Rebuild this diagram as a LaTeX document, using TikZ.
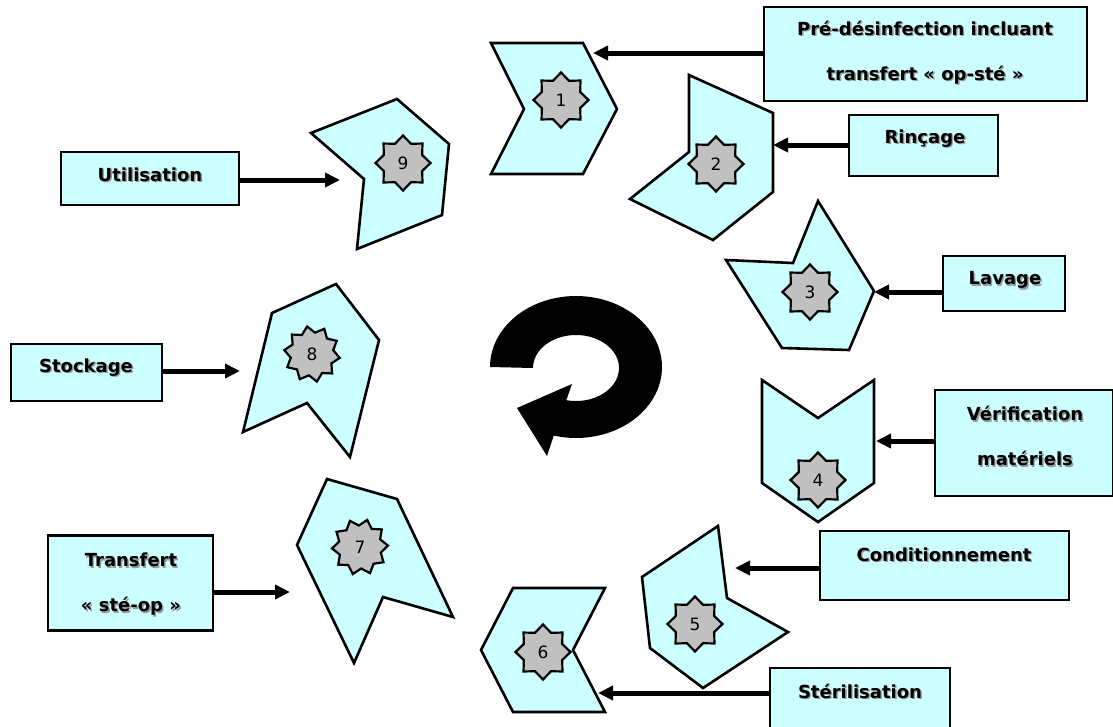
\documentclass[tikz,border=0pt]{standalone}
\usepackage{fontspec}
\setmainfont{DejaVu Sans}
\setsansfont{DejaVu Sans}
\usetikzlibrary{arrows.meta,shapes.geometric}
\definecolor{pale}{HTML}{CCFFFF}
\definecolor{stargray}{HTML}{C0C0C0}
\newcommand{\shd}[1]{\makebox[0pt][l]{\kern1.4pt\raisebox{-1.4pt}{\textcolor{black!40}{#1}}}#1}
\begin{document}
\begin{tikzpicture}[x=1pt,y=-1pt,
  piece/.style={draw=black,line width=2.6pt,fill=pale,line join=miter},
  starn/.style={star,star points=8,star point ratio=1.32,draw=black,line width=2.2pt,fill=stargray,
     minimum size=55pt,inner sep=0pt,font=\fontsize{17}{17}\selectfont\sffamily},
  starm/.style={starn,star points=10,star point ratio=1.3,minimum size=56pt},
  box/.style={draw=black,line width=2.4pt,fill=pale,inner sep=0pt},
  lbl/.style={font=\fontsize{18}{45}\selectfont\bfseries,align=center,inner sep=0pt},
  arr/.style={line width=5pt,-{Triangle[length=15pt,width=14pt]}}]
\useasboundingbox (0,0) rectangle (1113,726);
% --- pieces ---
\draw[piece] (491,43) -- (583,43) -- (617,109) -- (583,174) -- (491,174) -- (524,109) -- cycle;
\node[starn] (s1) at (561,100) {1};
\draw[piece] (689,75) -- (773,113) -- (773,192) -- (713,240) -- (630,199) -- (689,152) -- cycle;
\node[starn] (s2) at (716,164) {2};
\draw[piece] (818,201) -- (874,291) -- (849,350) -- (782,348) -- (726,260) -- (793,263) -- cycle;
\node[starn] (s3) at (810,292) {3};
\draw[piece] (762,380) -- (818,418) -- (874,380) -- (874,483) -- (818,522) -- (762,483) -- cycle;
\node[starn] (s4) at (818,480) {4};
\draw[piece] (642,577) -- (718,526) -- (727,598) -- (788,632) -- (703,688) -- (650,648) -- cycle;
\node[starn] (s5) at (695,624) {5};
\draw[piece] (513,588) -- (605,588) -- (573,650) -- (605,712) -- (513,712) -- (481,650) -- cycle;
\node[starn] (s6) at (543,652) {6};
\draw[piece] (327,479) -- (397,499) -- (453,617) -- (383,597) -- (354,663) -- (297,545) -- cycle;
\node[starm,shape border rotate=-15] (s7) at (360,547) {7};
\draw[piece] (272,313) -- (336,284) -- (379,340) -- (350,457) -- (307,403) -- (243,432) -- cycle;
\node[starm,shape border rotate=10] (s8) at (312,354) {8};
\draw[piece] (311,133) -- (397,99) -- (449,144) -- (442,215) -- (357,249) -- (364,179) -- cycle;
\node[starn] (s9) at (403,163) {9};
% --- contact points ---
\coordinate (p1) at (593,53);
\coordinate (p2) at (773,145);
\coordinate (p3) at (874,292);
\coordinate (p4) at (876,441);
\coordinate (p5) at (735,568);
\coordinate (p6) at (598,693);
\coordinate (p7) at (290,592);
\coordinate (p8) at (240,371);
\coordinate (p9) at (340,180);
% --- boxes ---
\node[box,minimum width=323pt,minimum height=94pt] (b1) at (925.5,54) {};
\node[box,minimum width=149pt,minimum height=61pt] (b2) at (923.5,145.5) {};
\node[box,minimum width=122pt,minimum height=55pt] (b3) at (1004,283.5) {};
\node[box,minimum width=178pt,minimum height=106pt] (b4) at (1024,443) {};
\node[box,minimum width=249pt,minimum height=69pt] (b5) at (944.5,565.5) {};
\node[box,minimum width=180pt,minimum height=60pt] (b6) at (860,698) {};
\node[box,minimum width=165pt,minimum height=95pt] (b7) at (130.5,583) {};
\node[box,minimum width=151pt,minimum height=57pt] (b8) at (86.5,372.5) {};
\node[box,minimum width=178pt,minimum height=53pt] (b9) at (150,178.5) {};
% --- labels ---
\node[lbl] (t1) at (925,53) {\shd{Pré-désinfection incluant}\\\shd{transfert « op-sté »}};
\node[lbl] (t2) at (925,139) {\shd{Rinçage}};
\node[lbl] (t3) at (1005,281) {\shd{Lavage}};
\node[lbl] (t4) at (1025,437) {\shd{Vérification}\\\shd{matériels}};
\node[lbl] (t5) at (944,555) {\shd{Conditionnement}};
\node[lbl] (t6) at (860,692) {\shd{Stérilisation}};
\node[lbl] (t7) at (131,585) {\shd{Transfert}\\\shd{« sté-op »}};
\node[lbl] (t8) at (86,368) {\shd{Stockage}};
\node[lbl] (t9) at (150,175) {\shd{Utilisation}};
% --- arrows ---
\draw[arr] (b1.west |- p1) -- (p1);
\draw[arr] (b2.west |- p2) -- (p2);
\draw[arr] (b3.west |- p3) -- (p3);
\draw[arr] (b4.west |- p4) -- (p4);
\draw[arr] (b5.west |- p5) -- (p5);
\draw[arr] (b6.west |- p6) -- (p6);
\draw[arr] (b7.east |- p7) -- (p7);
\draw[arr] (b8.east |- p8) -- (p8);
\draw[arr] (b9.east |- p9) -- (p9);
% --- cycle arrow ---
\fill[black] plot[domain=180:465,samples=90,variable=\t] ({576+86*cos(\t)},{367+71*sin(\t)})
  -- (547,456) -- (517,408) -- (572,384)
  -- plot[domain=463:180,samples=90,variable=\t] ({576+43*cos(\t)},{368+33*sin(\t)}) -- cycle;
\end{tikzpicture}
\end{document}
